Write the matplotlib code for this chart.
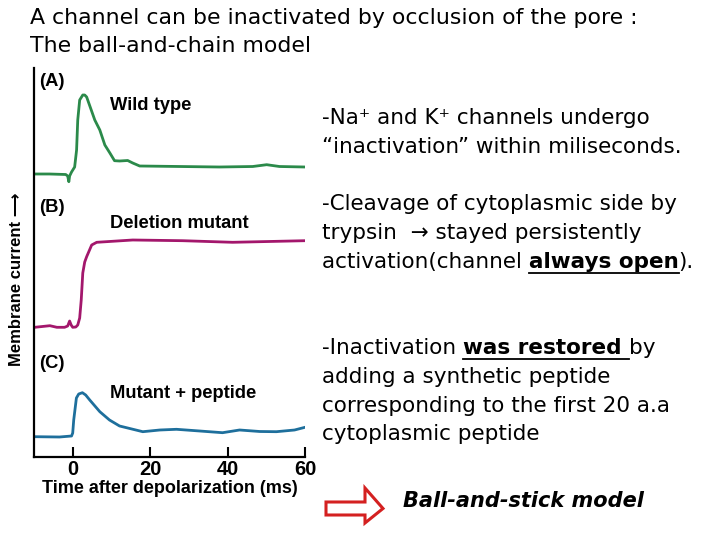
import matplotlib
matplotlib.use("Agg")
import matplotlib.pyplot as plt
from matplotlib.lines import Line2D
from matplotlib.patches import Polygon

# traces (time in ms, current in arbitrary stacked units)
wild_t = [-10, -6, -1.8, -1.3, -1.0, -0.8, -0.3, 0.5, 1.0, 1.3, 1.8, 2.6, 3.1, 3.6,
          5.7, 7.0, 8.3, 9.6, 10.8, 12.1, 14.2, 15.5, 17.3, 27.6, 37.9, 46.5, 50.1, 53.4, 60]
wild_i = [283, 283, 282.5, 281, 275.3, 281, 285, 290, 307, 337, 357, 362, 362, 360,
          337, 327, 312, 304, 296.3, 296, 296.5, 294, 291, 290.5, 290, 290.5, 292.3, 290.5, 290]

del_t = [-9.8, -5.9, -4.1, -2.1, -1.3, -0.8, -0.4, 0, 0.8, 1.3, 1.8, 2.2, 2.6, 3.1,
         3.6, 4.9, 6.2, 15.5, 28.4, 41.3, 60]
del_i = [129.7, 131.3, 129.7, 129.7, 131, 136, 132, 129.7, 130, 132, 139, 157, 184, 195,
         200.3, 212, 214.7, 217, 216.3, 214.7, 216.3]

pep_t = [-9.8, -3.4, -0.3, 0, 0.26, 0.95, 1.55, 2.5, 3.35, 4.4, 7.0, 9.5, 12.1, 18.1,
         22.5, 26.8, 32.8, 38.7, 43.1, 48.3, 52.6, 57.3, 60]
pep_i = [20.3, 20, 21, 24, 37, 59, 63, 64.3, 62, 57, 45.3, 37, 31, 25.3,
         27, 27.7, 26, 24.3, 27, 25.5, 25.3, 27, 29.7]

xticks = [0, 20, 40, 60]

W, H = 720, 540
fig = plt.figure(figsize=(7.2, 5.4), dpi=100)
fig.patch.set_facecolor("white")

ax = fig.add_axes([34 / W, 1 - 457 / H, (305 - 34) / W, (457 - 68) / H])
ax.plot(wild_t, wild_i, color="#2b8a4a", lw=2.0, solid_joinstyle="round")
ax.plot(del_t, del_i, color="#a3176c", lw=2.0, solid_joinstyle="round")
ax.plot(pep_t, pep_i, color="#1e6f9c", lw=2.0, solid_joinstyle="round")
ax.set_xlim(-10, 60)
ax.set_ylim(0, 389)
ax.spines["top"].set_visible(False)
ax.spines["right"].set_visible(False)
ax.spines["left"].set_linewidth(1.6)
ax.spines["bottom"].set_linewidth(1.6)
ax.set_yticks([])
ax.set_xticks(xticks)
ax.set_xticklabels([str(v) for v in xticks], fontsize=14.5, fontweight="bold",
                   family="Liberation Sans")
ax.tick_params(axis="x", direction="in", length=7, width=1.5, pad=2)
ax.set_xlabel("Time after depolarization (ms)", fontsize=13, fontweight="bold",
              family="Liberation Sans", labelpad=1)
ax.patch.set_alpha(0)


def ftext(x, y, s, **kw):
    return fig.text(x / W, 1 - y / H, s, **kw)


lab = dict(fontsize=13.2, fontweight="bold", family="Liberation Sans", va="center", ha="left")
ftext(39, 81, "(A)", **lab)
ftext(39, 207, "(B)", **lab)
ftext(39, 363, "(C)", **lab)
ftext(110, 106, "Wild type", **lab)
ftext(110, 224, "Deletion mutant", **lab)
ftext(110, 393, "Mutant + peptide", **lab)
ftext(17, 279, "Membrane current \u27f6", rotation=90, fontsize=12, fontweight="bold",
      family=["Liberation Sans", "DejaVu Sans"], va="center", ha="center")

# slide text
ftext(30, 18, "A channel can be inactivated by occlusion of the pore :", fontsize=15.8,
      va="center", ha="left")
ftext(30, 46, "The ball-and-chain model", fontsize=15.8, va="center", ha="left")

renderer = fig.canvas.get_renderer()


def draw_line(x, y, segments, size=15.5):
    for s, bold, ul in segments:
        t = ftext(x, y, s, fontsize=size, fontweight="bold" if bold else "normal",
                  va="center", ha="left")
        bb = t.get_window_extent(renderer)
        if ul:
            yy = bb.y0 - 1
            fig.add_artist(Line2D([bb.x0 / W, bb.x1 / W], [yy / H, yy / H],
                                  color="black", lw=1.3))
        x += bb.width


lines = [
    (118, [("-Na\u207a and K\u207a channels undergo", False, False)]),
    (147, [("\u201cinactivation\u201d within miliseconds.", False, False)]),
    (204, [("-Cleavage of cytoplasmic side by", False, False)]),
    (233, [("trypsin  \u2192 stayed persistently", False, False)]),
    (262, [("activation(channel ", False, False), ("always open", True, True), (").", False, False)]),
    (348, [("-Inactivation ", False, False), ("was restored ", True, True), ("by", False, False)]),
    (377, [("adding a synthetic peptide", False, False)]),
    (406, [("corresponding to the first 20 a.a", False, False)]),
    (434, [("cytoplasmic peptide", False, False)]),
]
for y, segs in lines:
    draw_line(322, y, segs)

ftext(403, 501, "Ball-and-stick model", fontsize=15, fontweight="bold", style="italic",
      va="center", ha="left")

arrow_px = [(326, 502), (365, 502), (365, 488), (383, 508.5), (365, 523), (365, 515), (326, 515)]
fig.add_artist(Polygon([(px / W, 1 - py / H) for px, py in arrow_px], closed=True,
                       facecolor="white", edgecolor="#d42020", lw=2.2,
                       transform=fig.transFigure))

fig.savefig("out.png", dpi=100)
